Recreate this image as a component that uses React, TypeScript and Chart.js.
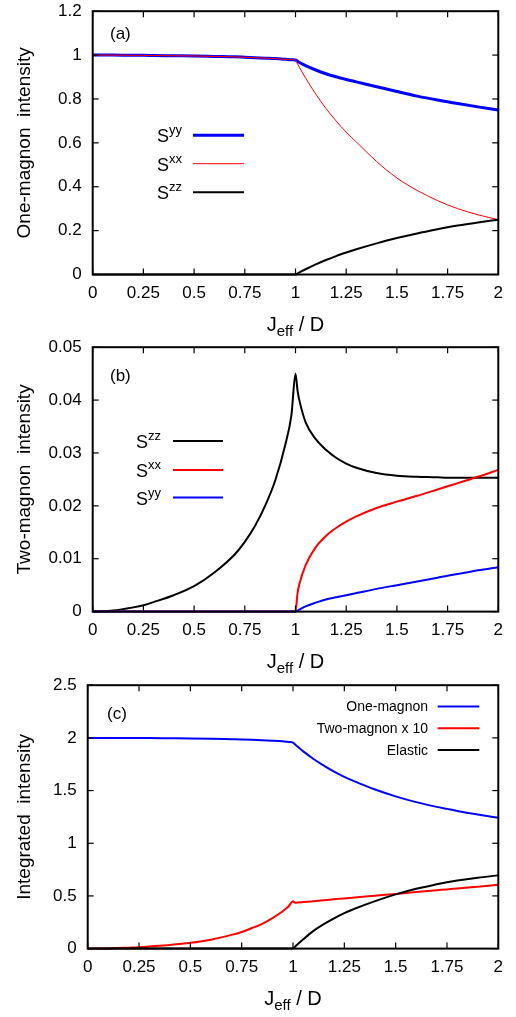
import React, { useEffect, useRef } from 'react';
import { Chart, registerables } from 'chart.js';
Chart.register(...registerables);

const FONT = '"Liberation Sans", Arial, Helvetica, sans-serif';

// Common abscissa J_eff / D
const jeff = [0, 0.1, 0.2, 0.25, 0.3, 0.4, 0.5, 0.6, 0.7, 0.75, 0.8, 0.85, 0.9, 0.95, 0.98, 1.0,
  1.01, 1.02, 1.05, 1.1, 1.15, 1.2, 1.25, 1.3, 1.4, 1.5, 1.6, 1.7, 1.75, 1.8, 1.9, 2.0];

// (a) One-magnon intensity
const oneSyy = [1.0, 1.0, 0.999, 0.999, 0.998, 0.997, 0.996, 0.994, 0.992, 0.99, 0.988, 0.986, 0.984, 0.981, 0.979, 0.978,
  0.972, 0.966, 0.952, 0.932, 0.915, 0.901, 0.889, 0.878, 0.856, 0.834, 0.813, 0.795, 0.787, 0.779, 0.764, 0.75];
const oneSxx = [1.0, 1.0, 0.999, 0.999, 0.998, 0.997, 0.996, 0.994, 0.992, 0.99, 0.988, 0.986, 0.984, 0.981, 0.979, 0.978,
  0.96, 0.943, 0.895, 0.822, 0.757, 0.7, 0.649, 0.604, 0.515, 0.44, 0.383, 0.337, 0.317, 0.3, 0.272, 0.25];
const oneSzz = [0, 0, 0, 0, 0, 0, 0, 0, 0, 0, 0, 0, 0, 0, 0, 0,
  0.005, 0.01, 0.024, 0.046, 0.066, 0.084, 0.1, 0.115, 0.142, 0.166, 0.187, 0.206, 0.215, 0.223, 0.237, 0.25];

// (b) Two-magnon intensity
const twoSzz = [0, 0.0002, 0.0008, 0.0012, 0.0018, 0.0031, 0.0048, 0.0074, 0.0108, 0.0132, 0.0162, 0.02, 0.0248, 0.0316, 0.0372, 0.045,
  0.0418, 0.0398, 0.0358, 0.0326, 0.0306, 0.0291, 0.028, 0.0272, 0.0262, 0.0257, 0.0255, 0.0254, 0.0253, 0.0253, 0.0253, 0.0253];
const twoSxx = [0, 0, 0, 0, 0, 0, 0, 0, 0, 0, 0, 0, 0, 0, 0, 0,
  0.0035, 0.0053, 0.0088, 0.0122, 0.0143, 0.0158, 0.017, 0.018, 0.0196, 0.0208, 0.0219, 0.0231, 0.0237, 0.0243, 0.0255, 0.0268];
const twoSyy = [0, 0, 0, 0, 0, 0, 0, 0, 0, 0, 0, 0, 0, 0, 0, 0,
  0.0002, 0.0004, 0.001, 0.0017, 0.0023, 0.0027, 0.0031, 0.0035, 0.0043, 0.005, 0.0057, 0.0064, 0.0068, 0.0071, 0.0078, 0.0084];

// (c) Integrated intensity
const intOne = [2.0, 2.0, 1.999, 1.998, 1.998, 1.996, 1.994, 1.991, 1.987, 1.985, 1.982, 1.978, 1.973, 1.967, 1.962, 1.955,
  1.938, 1.921, 1.872, 1.8, 1.737, 1.68, 1.63, 1.587, 1.51, 1.445, 1.39, 1.345, 1.326, 1.307, 1.273, 1.242];
const intTwo10 = [0, 0.002, 0.009, 0.013, 0.02, 0.035, 0.055, 0.085, 0.13, 0.158, 0.195, 0.235, 0.29, 0.355, 0.405, 0.45,
  0.435, 0.437, 0.442, 0.45, 0.459, 0.468, 0.476, 0.485, 0.502, 0.519, 0.537, 0.554, 0.562, 0.571, 0.588, 0.605];
const intElastic = [0, 0, 0, 0, 0, 0, 0, 0, 0, 0, 0, 0, 0, 0, 0, 0,
  0.018, 0.036, 0.088, 0.168, 0.232, 0.287, 0.336, 0.378, 0.451, 0.515, 0.568, 0.61, 0.629, 0.646, 0.673, 0.695];

// Ticks
const xTicks = [0, 0.25, 0.5, 0.75, 1, 1.25, 1.5, 1.75, 2];
const xTickLabels = ['0', '0.25', '0.5', '0.75', '1', '1.25', '1.5', '1.75', '2'];
const yTicksA = [0, 0.2, 0.4, 0.6, 0.8, 1, 1.2];
const yTickLabelsA = ['0', '0.2', '0.4', '0.6', '0.8', '1', '1.2'];
const yTicksB = [0, 0.01, 0.02, 0.03, 0.04, 0.05];
const yTickLabelsB = ['0', '0.01', '0.02', '0.03', '0.04', '0.05'];
const yTicksC = [0, 0.5, 1, 1.5, 2, 2.5];
const yTickLabelsC = ['0', '0.5', '1', '1.5', '2', '2.5'];

const BLUE = '#0000ff';
const RED = '#ff0000';
const BLACK = '#000000';

type Series = { label: string; sup?: string; values: number[]; color: string; width: number };
type Panel = {
  chartTop: number;
  chartBottom: number;
  yWidth: number;
  yMax: number;
  yTicks: number[];
  yTickLabels: string[];
  yTitle: string;
  tag: string;
  tagX: number;
  tagY: number;
  series: Series[];
  legendStyle: 'sup' | 'right';
  legendX: number;
  lineX0: number;
  lineX1: number;
  legendRows: number[];
};

const CANVAS_W = 516;
const CHART_RIGHT = 498.3;
const X_AXIS_H = 66;

const panels: Panel[] = [
  {
    chartTop: 11, chartBottom: 274.3, yWidth: 92.7, yMax: 1.2,
    yTicks: yTicksA, yTickLabels: yTickLabelsA, yTitle: 'One-magnon  intensity',
    tag: '(a)', tagX: 110, tagY: 39,
    series: [
      { label: 'S', sup: 'yy', values: oneSyy, color: BLUE, width: 3 },
      { label: 'S', sup: 'xx', values: oneSxx, color: RED, width: 1 },
      { label: 'S', sup: 'zz', values: oneSzz, color: BLACK, width: 2 },
    ],
    legendStyle: 'sup', legendX: 157, lineX0: 193, lineX1: 244, legendRows: [135, 163.5, 192],
  },
  {
    chartTop: 347.3, chartBottom: 611.7, yWidth: 92.7, yMax: 0.05,
    yTicks: yTicksB, yTickLabels: yTickLabelsB, yTitle: 'Two-magnon  intensity',
    tag: '(b)', tagX: 110, tagY: 381,
    series: [
      { label: 'S', sup: 'zz', values: twoSzz, color: BLACK, width: 2 },
      { label: 'S', sup: 'xx', values: twoSxx, color: RED, width: 2 },
      { label: 'S', sup: 'yy', values: twoSyy, color: BLUE, width: 2 },
    ],
    legendStyle: 'sup', legendX: 136, lineX0: 173, lineX1: 223, legendRows: [441, 470, 497.7],
  },
  {
    chartTop: 685.3, chartBottom: 948.7, yWidth: 87.7, yMax: 2.5,
    yTicks: yTicksC, yTickLabels: yTickLabelsC, yTitle: 'Integrated  intensity',
    tag: '(c)', tagX: 107, tagY: 719,
    series: [
      { label: 'One-magnon', values: intOne, color: BLUE, width: 2 },
      { label: 'Two-magnon x 10', values: intTwo10, color: RED, width: 2 },
      { label: 'Elastic', values: intElastic, color: BLACK, width: 2 },
    ],
    legendStyle: 'right', legendX: 428, lineX0: 437.7, lineX1: 479.3, legendRows: [706.7, 728.3, 750],
  },
];

function decorPlugin(p: Panel) {
  return {
    id: 'decor',
    afterDatasetsDraw(chart: any) {
      const { ctx, chartArea: a, scales } = chart;
      const cy = (py: number) => py - p.chartTop + a.top;
      ctx.save();
      const seg = (x0: number, y0: number, x1: number, y1: number) => {
        ctx.beginPath(); ctx.moveTo(x0, y0); ctx.lineTo(x1, y1); ctx.stroke();
      };
      ctx.strokeStyle = '#000';
      ctx.lineWidth = 1.2;
      const TL = 6;
      for (const v of xTicks) {
        const px = scales.x.getPixelForValue(v);
        seg(px, a.bottom, px, a.bottom - TL);
        seg(px, a.top, px, a.top + TL);
      }
      for (const v of p.yTicks) {
        const py = scales.y.getPixelForValue(v);
        seg(a.left, py, a.left + TL, py);
        seg(a.right, py, a.right - TL, py);
      }
      ctx.lineWidth = 2;
      ctx.strokeRect(a.left, a.top, a.right - a.left, a.bottom - a.top);

      ctx.fillStyle = '#000';
      ctx.font = `17px ${FONT}`;
      ctx.textAlign = 'left';
      ctx.textBaseline = 'alphabetic';
      ctx.fillText(p.tag, p.tagX, cy(p.tagY));

      // x title: J_eff / D
      const cx = (a.left + a.right) / 2;
      const base = a.bottom + 56;
      const big = `20px ${FONT}`;
      const small = `15px ${FONT}`;
      ctx.font = big; const wJ = ctx.measureText('J').width; const wD = ctx.measureText(' / D').width;
      ctx.font = small; const wE = ctx.measureText('eff').width;
      let sx = cx - (wJ + wE + wD) / 2;
      ctx.font = big; ctx.fillText('J', sx, base); sx += wJ;
      ctx.font = small; ctx.fillText('eff', sx, base + 5); sx += wE;
      ctx.font = big; ctx.fillText(' / D', sx, base);

      // y title (rotated)
      ctx.save();
      ctx.translate(29.5, (a.top + a.bottom) / 2);
      ctx.rotate(-Math.PI / 2);
      ctx.font = `19px ${FONT}`;
      ctx.textAlign = 'center';
      ctx.fillText(p.yTitle, 0, 0);
      ctx.restore();

      // legend
      p.series.forEach((s, i) => {
        const y = cy(p.legendRows[i]);
        ctx.strokeStyle = s.color;
        ctx.lineWidth = s.width;
        seg(p.lineX0, y, p.lineX1, y);
        ctx.fillStyle = '#000';
        if (p.legendStyle === 'sup') {
          ctx.textAlign = 'left';
          ctx.textBaseline = 'alphabetic';
          ctx.font = `18px ${FONT}`;
          ctx.fillText(s.label, p.legendX, y + 7);
          const w = ctx.measureText(s.label).width;
          ctx.font = `13px ${FONT}`;
          ctx.fillText(s.sup || '', p.legendX + w, y - 1);
        } else {
          ctx.textAlign = 'right';
          ctx.textBaseline = 'middle';
          ctx.font = `14px ${FONT}`;
          ctx.fillText(s.label, p.legendX, y + 1);
        }
      });
      ctx.restore();
    },
  };
}

function PanelChart({ p }: { p: Panel }) {
  const ref = useRef<HTMLCanvasElement | null>(null);
  useEffect(() => {
    const canvas = ref.current;
    if (!canvas) return;
    const dims = { xh: X_AXIS_H };
    const chartH = p.chartBottom - p.chartTop;
    const datasets = p.series.map((s) => ({
      label: s.label + (s.sup || ''),
      data: jeff.map((x, i) => ({ x, y: s.values[i] })),
      borderColor: s.color,
      backgroundColor: s.color,
      borderWidth: s.width,
      pointRadius: 0,
      fill: false,
      cubicInterpolationMode: 'monotone' as const,
      clip: false as any,
    })).reverse();
    const chart = new Chart(canvas, {
      type: 'line',
      data: { datasets },
      options: {
        responsive: false,
        maintainAspectRatio: false,
        animation: false,
        devicePixelRatio: 1,
        layout: { padding: { top: 0, right: CANVAS_W - CHART_RIGHT, left: 0, bottom: 0 } },
        plugins: { legend: { display: false }, tooltip: { enabled: false } },
        scales: {
          x: {
            type: 'linear',
            min: 0,
            max: 2,
            afterBuildTicks: (s: any) => { s.ticks = xTicks.map((v) => ({ value: v })); },
            afterFit: (s: any) => { s.height = dims.xh; },
            ticks: {
              callback: (_v: any, i: number) => xTickLabels[i],
              font: { family: FONT, size: 17 },
              color: '#000',
              padding: 9,
              maxRotation: 0,
              autoSkip: false,
            },
            grid: { display: false, drawTicks: false },
            border: { display: false },
          },
          y: {
            type: 'linear',
            min: 0,
            max: p.yMax,
            afterBuildTicks: (s: any) => { s.ticks = p.yTicks.map((v) => ({ value: v })); },
            afterFit: (s: any) => { s.width = p.yWidth; },
            ticks: {
              callback: (_v: any, i: number) => p.yTickLabels[i],
              font: { family: FONT, size: 17 },
              color: '#000',
              padding: 11,
              autoSkip: false,
            },
            grid: { display: false, drawTicks: false },
            border: { display: false },
          },
        },
      } as any,
      plugins: [decorPlugin(p)],
    });
    // Align the plot frame with the wanted page position
    const t = chart.chartArea.top;
    const H = Math.ceil(t + chartH + X_AXIS_H);
    dims.xh = H - t - chartH;
    canvas.style.top = `${p.chartTop - t}px`;
    chart.resize(CANVAS_W, H);
    chart.update();
    return () => chart.destroy();
  }, [p]);
  return (
    <canvas
      ref={ref}
      width={CANVAS_W}
      height={340}
      style={{ position: 'absolute', left: 0, top: 0 }}
    />
  );
}

export default function App() {
  return (
    <div style={{ position: 'absolute', left: 0, top: 0, width: CANVAS_W, height: 1017, background: '#fff', overflow: 'hidden' }}>
      {panels.map((p, i) => (
        <PanelChart key={i} p={p} />
      ))}
    </div>
  );
}
